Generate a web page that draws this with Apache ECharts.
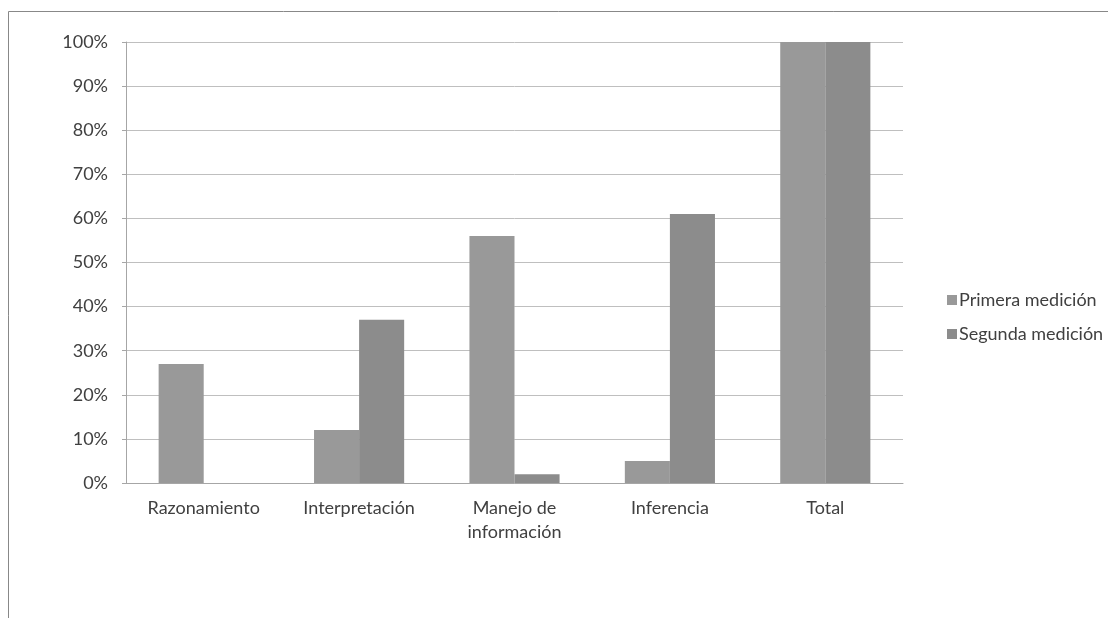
<!DOCTYPE html>
<html lang="es">
<head>
    <meta charset="UTF-8">
    <title>Mediciones</title>
    <style>
        * {
            margin: 0;
            padding: 0;
        }

        #main {
            width: 1108px;
            height: 618px;
        }
    </style>
</head>
<body>
    <div id="main"></div>
</body>
<script src="https://cdn.jsdelivr.net/npm/echarts@6/dist/echarts.min.js"></script>
<script>
    let categories = ['Razonamiento', 'Interpretación', 'Manejo de información', 'Inferencia', 'Total'];
    let primera = [27, 12, 56, 5, 100];
    let segunda = [0, 37, 2, 61, 100];
    let seriesNames = ['Primera medición', 'Segunda medición'];

    let font = 'Lato, "Open Sans", sans-serif';

    let option = {
        animation: false,
        textStyle: { fontFamily: font },
        graphic: [{
            type: 'rect',
            shape: { x: 8.5, y: 11.5, width: 1200, height: 700 },
            style: { fill: 'none', stroke: '#888', lineWidth: 1 }
        }],
        grid: {
            left: 126,
            right: 205,
            top: 42,
            bottom: 135
        },
        legend: {
            orient: 'vertical',
            left: 942,
            top: 286,
            itemWidth: 10,
            itemHeight: 10,
            itemGap: 16,
            icon: 'rect',
            textStyle: { fontSize: 18, color: '#404040', fontFamily: font, padding: [0, 0, 0, -3] }
        },
        xAxis: {
            type: 'category',
            data: categories,
            axisLine: { lineStyle: { color: '#a6a6a6' } },
            axisTick: { length: 5, lineStyle: { color: '#a6a6a6' } },
            axisLabel: {
                fontSize: 18,
                color: '#404040',
                margin: 13,
                lineHeight: 24,
                interval: 0,
                formatter: v => v === 'Manejo de información' ? 'Manejo de\ninformación' : v
            }
        },
        yAxis: {
            type: 'value',
            min: 0,
            max: 100,
            interval: 10,
            axisLine: { show: true, lineStyle: { color: '#a6a6a6' } },
            axisTick: { show: true, length: 4, lineStyle: { color: '#a6a6a6' } },
            splitLine: { lineStyle: { color: '#bfbfbf' } },
            axisLabel: { fontSize: 18, color: '#404040', margin: 18, formatter: '{value}%' }
        },
        series: [
            {
                name: seriesNames[0],
                type: 'bar',
                data: primera,
                barGap: '0%',
                barCategoryGap: '42%',
                itemStyle: { color: '#999999' }
            },
            {
                name: seriesNames[1],
                type: 'bar',
                data: segunda,
                itemStyle: { color: '#8c8c8c' }
            }
        ]
    };

    initChart(option);

    function initChart(option) {
        let myCharts = echarts.init(document.getElementById('main'));
        myCharts.clear();
        myCharts.setOption(option);
        window.addEventListener('resize', () => {
            myCharts.resize();
        });
    }
</script>
</html>
